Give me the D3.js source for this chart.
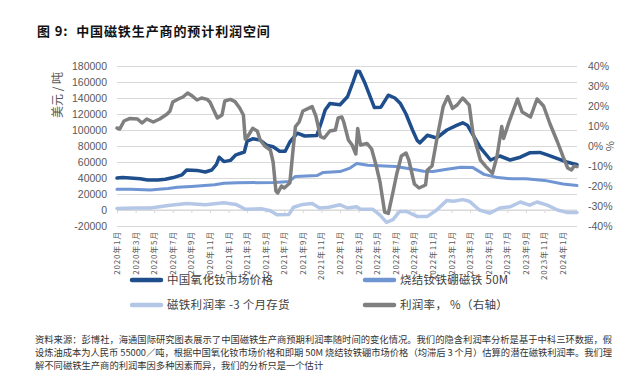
<!DOCTYPE html>
<html lang="zh">
<head>
  <meta charset="UTF-8">
  <script src="https://cdn.jsdelivr.net/npm/d3@7"></script>
  <title>中国磁铁生产商的预计利润空间</title>
  <style>
    body { margin: 0; background: #fff; }
    svg { display: block; }
    * { font-family: "Noto Sans CJK SC", sans-serif; }
    .tick-num { font-family: "Liberation Sans", sans-serif; font-size: 10.5px; fill: #595959; }
    .xlab { font-size: 8px; fill: #595959; letter-spacing: 0.8px; }
    .legend { font-size: 11.5px; fill: #404040; letter-spacing: 0.3px; }
    .note { font-size: 9.3px; fill: #333; }
  </style>
</head>
<body>
<script>
  // x values are months since 2020-01 ; left axis in USD/t, right axis in %
  const tickLabels = ["2020年1月","2020年3月","2020年5月","2020年7月","2020年9月","2020年11月",
    "2021年1月","2021年3月","2021年5月","2021年7月","2021年9月","2021年11月",
    "2022年1月","2022年3月","2022年5月","2022年7月","2022年9月","2022年11月",
    "2023年1月","2023年3月","2023年5月","2023年7月","2023年9月","2023年11月","2024年1月"];

  const oxidePrice = [[0,40000],[0.6,40500],[1.4,40000],[2.5,39000],[3.3,37500],[4.4,37500],[5.2,38500],
    [6.2,41000],[7.0,44000],[7.5,50000],[8.6,49500],[9.5,47500],[10.2,50000],[10.7,57000],[11.0,66000],
    [11.5,60500],[12.2,62000],[12.8,69000],[13.7,72500],[14.0,86000],[14.6,89000],[15.4,87500],[16.1,81000],
    [16.8,79000],[17.5,73500],[18.1,73500],[18.6,85000],[19.4,96000],[20.2,92500],[21.5,93000],[22.0,110000],
    [22.4,125000],[22.9,133000],[24.0,131500],[24.8,141500],[25.4,160000],[25.8,173500],[26.1,173000],
    [26.7,158000],[27.2,143000],[27.7,128000],[28.4,128500],[29.2,143500],[29.9,140000],[30.5,133000],
    [31.1,120000],[31.8,100000],[32.3,87000],[32.6,84000],[33.4,93500],[34.4,90000],[35.5,100000],
    [36.6,106000],[37.2,109000],[37.7,106000],[38.2,96000],[39.1,78000],[40.2,62500],[41.2,67500],
    [42.3,62500],[43.4,66000],[44.4,71500],[45.5,72000],[46.3,69000],[47.7,63000],[48.4,60000],[49.5,56500]];

  const magnetPrice = [[0,26000],[1.5,26000],[3.6,25000],[4.5,26000],[5.5,27000],[6.5,28500],[8,29500],
    [10.5,31500],[11.5,33500],[13,34000],[17,34500],[18.5,35500],[19.2,42000],[21.5,43000],[22.2,47000],
    [24,48000],[25,52000],[25.8,58000],[27,56000],[30,54500],[32,50500],[33,48500],[34,48000],[35.5,51000],
    [37,53500],[38.3,53000],[39.5,44500],[41,40500],[42.5,39000],[44,39000],[46,37000],[48,32500],[49.5,30500]];

  const marginInventory = [[0,2000],[2,2500],[3.6,2500],[5.5,5500],[7.5,8000],[9.5,6500],[11.5,9000],
    [12.8,7000],[13.8,1000],[15.5,1500],[16.5,-1000],[17.2,-6000],[18.5,-5500],[19.0,3500],[20,7000],
    [21,8000],[21.8,2500],[22.8,3500],[24,6500],[24.8,2500],[25.8,4000],[26.2,1000],[27.5,1000],
    [28.3,-6500],[29.0,-15500],[29.7,-12000],[30.4,-2000],[31.2,-2000],[32.3,-8000],[33.4,-8000],
    [34.4,0],[35.5,12000],[36.2,11000],[37.2,13000],[37.9,11000],[39,0],[40.1,-4000],[41.2,2500],
    [42.3,4000],[43.4,10000],[44.4,6000],[45.2,10000],[46.3,6000],[47.4,0],[48.4,-3000],[49.5,-3000]];

  const marginPct = [[0,9],[0.3,8.5],[0.75,12.5],[1.4,13.8],[2.2,13.5],[2.7,11.5],[3.2,13.5],[3.9,12],
    [4.6,13.5],[5.4,16],[5.7,17.5],[6.0,22],[6.6,23.5],[7.1,24.5],[7.6,26.5],[8.1,25],[8.6,23],[9.1,24],
    [9.7,23.3],[10.0,22],[10.4,18],[10.8,14],[11.3,15.5],[11.6,22.5],[12.2,23.3],[12.7,22.2],[13.2,19],
    [13.6,15.5],[13.8,3.5],[14.1,5],[14.6,8.8],[15.1,7.5],[15.4,3],[15.9,0],[16.5,-2],[16.8,-8],
    [17.1,-22.5],[17.3,-23.5],[17.7,-20],[18.0,-21],[18.6,-18.5],[18.9,-4],[19.2,9.7],[19.6,12],
    [20.0,17.5],[20.6,18.8],[21.0,19.7],[21.4,15],[21.9,4.7],[22.3,4],[22.9,7.5],[23.5,8],[23.8,14],
    [24.2,14.5],[24.4,12],[24.9,3],[25.3,0.5],[25.7,-4],[25.9,8.8],[26.2,0.5],[26.9,1.3],[27.4,-1.5],
    [27.9,-10],[28.3,-18],[28.8,-33],[29.2,-33.7],[29.7,-23],[30.1,-14],[30.6,-5],[31.1,-3.5],[31.4,-7],
    [32.0,-19],[32.5,-21],[33.2,-19.5],[33.4,-12],[33.9,-10],[34.4,3],[35.1,19.7],[35.6,24.7],[36.1,18.8],
    [36.6,20.5],[37.2,24],[37.9,20.5],[38.3,6.5],[39.1,-7],[39.7,-10.3],[40.4,-13.7],[40.9,-5],[41.4,9.7],
    [41.6,3.8],[42.2,12.2],[43.1,23.5],[43.6,17],[44.5,14.5],[45.2,23.5],[45.9,20],[46.6,11],[47.4,2],
    [48.0,-5.3],[48.5,-11],[48.9,-12],[49.2,-10],[49.5,-10.3]];

  const width = 641, height = 371;
  const plotLeft = 117, plotRight = 577, plotTop = 66, plotBottom = 226;

  const svg = d3.select("body").append("svg").attr("width", width).attr("height", height);

  const x = d3.scaleLinear().domain([0, 49.5]).range([plotLeft, plotRight]);
  const yL = d3.scaleLinear().domain([-20000, 180000]).range([plotBottom, plotTop]);
  const yR = d3.scaleLinear().domain([-0.4, 0.4]).range([plotBottom, plotTop]);

  // title
  svg.append("text").attr("x", 37).attr("y", 36)
    .style("font-size", "13px").style("font-weight", "bold").style("letter-spacing", "0.9px").attr("fill", "#111")
    .attr("xml:space", "preserve").text("图 9:  中国磁铁生产商的预计利润空间");

  // grid + left axis
  const axisL = d3.axisLeft(yL).tickValues(d3.range(-20000, 180001, 20000))
    .tickSize(-(plotRight - plotLeft)).tickPadding(10).tickFormat(d3.format("d"));
  const gL = svg.append("g").attr("transform", `translate(${plotLeft},0)`).call(axisL);
  gL.select(".domain").remove();
  gL.selectAll(".tick line").attr("stroke", "#d9d9d9").attr("stroke-width", 1);
  gL.selectAll(".tick text").attr("class", "tick-num").text(d => String(d));

  const axisR = d3.axisRight(yR).tickValues(d3.range(-4, 5).map(d => d / 10))
    .tickSize(0).tickPadding(11);
  const gR = svg.append("g").attr("transform", `translate(${plotRight},0)`).call(axisR);
  gR.select(".domain").remove();
  gR.selectAll(".tick text").attr("class", "tick-num").text(d => Math.round(d * 100) + "%");

  // x axis sits on the zero line
  const axisX = d3.axisBottom(x).tickValues(d3.range(0, 49, 2)).tickSize(3).tickFormat("");
  const gX = svg.append("g").attr("transform", `translate(0,${yL(0)})`).call(axisX);
  gX.select(".domain").attr("stroke", "#d9d9d9").attr("d", `M${plotLeft},0H${plotRight}`);
  gX.selectAll(".tick line").attr("stroke", "#d9d9d9");

  svg.append("g").selectAll("text").data(tickLabels).join("text")
    .attr("class", "xlab")
    .attr("transform", (d, i) => `translate(${x(i * 2) + 3},${plotBottom + 5}) rotate(-90)`)
    .attr("text-anchor", "end")
    .text(d => d);

  // axis titles
  svg.append("text").attr("transform", `translate(62,95) rotate(-90)`).attr("text-anchor", "middle")
    .style("font-size", "12px").attr("fill", "#595959").attr("xml:space", "preserve").text("美元 / 吨");
  svg.append("text").attr("transform", `translate(606,146) rotate(90)`).attr("text-anchor", "middle")
    .style("font-size", "11px").attr("fill", "#595959").text("%");

  // series
  const lineL = d3.line().x(d => x(d[0])).y(d => yL(d[1]));
  const lineR = d3.line().x(d => x(d[0])).y(d => yR(d[1] / 100));

  const series = [
    { data: marginInventory, line: lineL, color: "#b4c7e7", w: 3.5 },
    { data: magnetPrice, line: lineL, color: "#6f95d2", w: 3 },
    { data: oxidePrice, line: lineL, color: "#1f4e8c", w: 3.5 },
    { data: marginPct, line: lineR, color: "#7f7f7f", w: 3.5 }
  ];
  svg.append("g").selectAll("path").data(series).join("path")
    .attr("d", d => d.line(d.data))
    .attr("fill", "none").attr("stroke", d => d.color).attr("stroke-width", d => d.w)
    .attr("stroke-linejoin", "round").attr("stroke-linecap", "round");

  // legend
  const legendItems = [
    { label: "中国氧化钕市场价格", color: "#1f4e8c", x: 130, y: 283 },
    { label: "烧结钕铁硼磁铁 50M", color: "#6f95d2", x: 363, y: 283 },
    { label: "磁铁利润率 -3 个月存货", color: "#b4c7e7", x: 130, y: 308 },
    { label: "利润率， %（右轴）", color: "#7f7f7f", x: 363, y: 308 }
  ];
  const lg = svg.append("g").selectAll("g").data(legendItems).join("g")
    .attr("transform", d => `translate(${d.x},${d.y})`);
  lg.append("line").attr("x1", 2).attr("x2", 31).attr("y1", -3).attr("y2", -3)
    .attr("stroke", d => d.color).attr("stroke-width", 4.5).attr("stroke-linecap", "round");
  lg.append("text").attr("class", "legend").attr("x", 37).attr("y", 1).attr("xml:space", "preserve").text(d => d.label);

  // source note
  const notes = [
    "资料来源：彭博社，海通国际研究图表展示了中国磁铁生产商预期利润率随时间的变化情况。我们的隐含利润率分析是基于中科三环数据，假",
    "设炼油成本为人民币 55000／吨，根据中国氧化钕市场价格和即期 50M 烧结钕铁硼市场价格（均滞后 3 个月）估算的潜在磁铁利润率。我们理",
    "解不同磁铁生产商的利润率因多种因素而异，我们的分析只是一个估计"
  ];
  svg.append("g").selectAll("text").data(notes).join("text")
    .attr("class", "note").attr("x", 35).attr("y", (d, i) => 343 + i * 13)
    .attr("textLength", (d, i) => i < 2 ? 577 : null)
    .attr("lengthAdjust", "spacing")
    .text(d => d);
</script>
</body>
</html>
